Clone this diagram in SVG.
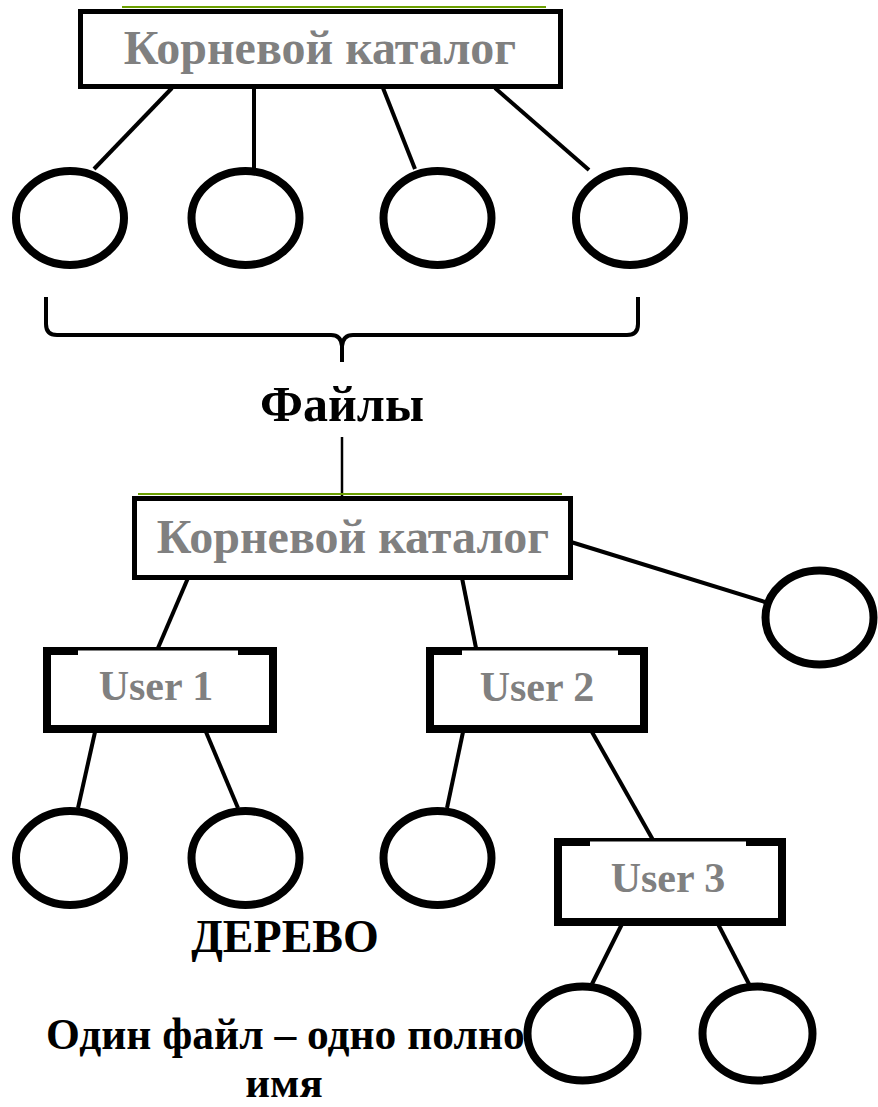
<svg xmlns="http://www.w3.org/2000/svg" width="878" height="1107" viewBox="0 0 878 1107">
  <style>
    .dir { fill: #ffffff; stroke: #000000; stroke-width: 5; }
    .usr { fill: #ffffff; stroke: #000000; stroke-width: 8; }
    .file { fill: #ffffff; stroke: #000000; stroke-width: 8; }
    .gap { fill: #ffffff; stroke: none; }
    .hl { stroke: #6b9f00; stroke-width: 2; }
    .lbl { font-family: "Liberation Serif", "Times New Roman", serif; font-weight: bold; fill: #808080; text-anchor: middle; }
    .cap { font-family: "Liberation Serif", "Times New Roman", serif; font-weight: bold; fill: #000000; text-anchor: middle; }
    .wire { stroke: #000000; stroke-width: 4; fill: none; }
  </style>
  <rect width="878" height="1107" fill="#ffffff"/>

  <!-- connectors -->
  <g id="connectors">
    <line class="wire" x1="172" y1="88" x2="94" y2="169"/>
    <line class="wire" x1="254" y1="88" x2="254" y2="168"/>
    <line class="wire" x1="383" y1="88" x2="415" y2="169"/>
    <line class="wire" x1="495" y1="88" x2="589" y2="170"/>
    <path class="wire" d="M46,297 L46,324 Q46,335 57,335 L331,335 Q341,335 342,346 L342,362 M638,297 L638,324 Q638,335 627,335 L353,335 Q343,335 342,346"/>
    <line class="wire" x1="342" y1="437" x2="342" y2="497" style="stroke-width:2.5"/>
    <line class="wire" x1="558" y1="538" x2="765" y2="602"/>
    <line class="wire" x1="188" y1="578" x2="158" y2="648"/>
    <line class="wire" x1="462" y1="578" x2="476" y2="648"/>
    <line class="wire" x1="95" y1="732" x2="78" y2="808"/>
    <line class="wire" x1="206" y1="732" x2="238" y2="808"/>
    <line class="wire" x1="463" y1="732" x2="447" y2="808"/>
    <line class="wire" x1="592" y1="732" x2="653" y2="840"/>
    <line class="wire" x1="622" y1="924" x2="592" y2="984"/>
    <line class="wire" x1="718" y1="924" x2="750" y2="986"/>
  </g>

  <!-- root directory (top) -->
  <g id="root-top">
    <line class="hl" x1="122" y1="7" x2="546" y2="7"/>
    <rect class="dir" x="80.5" y="11.5" width="480" height="75"/>
    <text class="lbl" x="320" y="64" font-size="48">Корневой каталог</text>
  </g>

  <g id="file-a"><ellipse class="file" cx="70" cy="218" rx="54" ry="47"/></g>
  <g id="file-b"><ellipse class="file" cx="245.5" cy="218" rx="54" ry="47"/></g>
  <g id="file-c"><ellipse class="file" cx="437.5" cy="218" rx="54" ry="47"/></g>
  <g id="file-d"><ellipse class="file" cx="630" cy="218" rx="54" ry="47"/></g>

  <g id="files-label">
    <text class="cap" x="342" y="421" font-size="50">Файлы</text>
  </g>

  <!-- root directory (tree) -->
  <g id="root-tree">
    <line class="hl" x1="138" y1="494" x2="562" y2="494"/>
    <rect class="dir" x="134.5" y="498.5" width="436" height="79"/>
    <text class="lbl" x="353" y="553" font-size="48">Корневой каталог</text>
  </g>

  <g id="file-root"><ellipse class="file" cx="819.5" cy="617.5" rx="54" ry="47"/></g>

  <g id="user1">
    <rect class="usr" x="47" y="651" width="226" height="78"/>
    <rect class="gap" x="78" y="650.5" width="160" height="8"/>
    <text class="lbl" x="156" y="700" font-size="42">User 1</text>
  </g>

  <g id="user2">
    <rect class="usr" x="430" y="651" width="214" height="78"/>
    <rect class="gap" x="462" y="650.5" width="156" height="8"/>
    <text class="lbl" x="537" y="701" font-size="42">User 2</text>
  </g>

  <g id="file-u1a"><ellipse class="file" cx="70" cy="858" rx="54" ry="47"/></g>
  <g id="file-u1b"><ellipse class="file" cx="245.5" cy="858" rx="54" ry="47"/></g>
  <g id="file-u2a"><ellipse class="file" cx="437.5" cy="858" rx="54" ry="47"/></g>

  <g id="user3">
    <rect class="usr" x="558" y="842" width="224" height="80"/>
    <rect class="gap" x="590" y="841.5" width="156" height="8"/>
    <text class="lbl" x="668" y="892" font-size="42">User 3</text>
  </g>

  <g id="caption">
    <text class="cap" x="285" y="952" font-size="46">ДЕРЕВО</text>
    <text class="cap" x="295" y="1049" font-size="43.5">Один файл – одно полное</text>
    <text class="cap" x="284" y="1097" font-size="43">имя</text>
  </g>

  <g id="file-u3a"><ellipse class="file" cx="582.5" cy="1033.5" rx="55" ry="47"/></g>
  <g id="file-u3b"><ellipse class="file" cx="757.5" cy="1033.5" rx="55" ry="47"/></g>
</svg>
